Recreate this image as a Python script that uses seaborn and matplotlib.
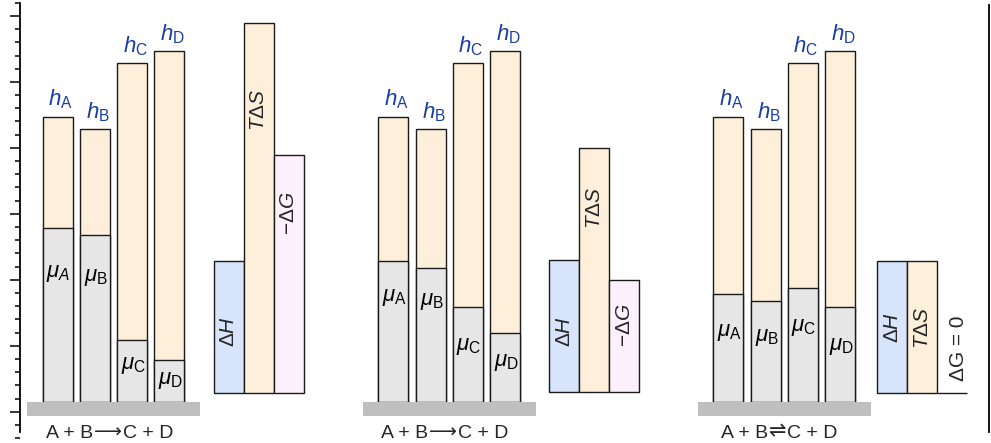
import numpy as np
import matplotlib
matplotlib.use("Agg")
import matplotlib.pyplot as plt
from matplotlib.patches import Rectangle
from matplotlib.ticker import MultipleLocator
import seaborn as sns

# ---- data (energy in axis-tick units, measured from the floor) ----
species = ["A", "B", "C", "D"]
enthalpy_h = [21.6, 20.65, 25.65, 26.6]          # h of each species (same in all panels)
mu_panel1 = [13.15, 12.65, 4.65, 3.15]           # chemical potentials, reaction runs forward
mu_panel2 = [10.65, 10.15, 7.15, 5.2]            # closer to equilibrium
mu_panel3 = [8.15, 7.65, 8.65, 7.15]             # at equilibrium
thermo_names = ["dH", "TdS", "mdG"]
thermo_panel1 = [10.0, 28.0, 18.0]               # ΔH, TΔS, −ΔG
thermo_panel2 = [10.0, 18.45, 8.45]
thermo_panel3 = [10.0, 10.0, 0.0]
reaction_parts = [
    ("A + B", "\u27F6", "C + D"),
    ("A + B", "\u27F6", "C + D"),
    ("A + B", "\u21CC", "C + D"),
]
thermo_text = [
    [r"$\Delta H$", r"$T\Delta S$", r"$-\Delta G$"],
    [r"$\Delta H$", r"$T\Delta S$", r"$-\Delta G$"],
    [r"$\Delta H$", r"$T\Delta S$", "\u0394G = 0"],
]
mu_text = [
    [r"$\mu_{A}$", r"$\mu_\mathrm{B}$", r"$\mu_\mathrm{C}$", r"$\mu_\mathrm{D}$"],
    [r"$\mu_\mathrm{A}$", r"$\mu_\mathrm{B}$", r"$\mu_\mathrm{C}$", r"$\mu_\mathrm{D}$"],
    [r"$\mu_\mathrm{A}$", r"$\mu_\mathrm{B}$", r"$\mu_\mathrm{C}$", r"$\mu_\mathrm{D}$"],
]

# ---- layout ----
FLOOR = 0.76
panel_x0 = [57.5, 393.3, 728.3]          # centre of first species bar
thermo_x0 = [228.8, 564.3, 892.2]        # centre of ΔH bar
thermo_floor = [1.44, 1.52, 1.44]
STEP = 37.3
BAR_W = 30.0
mu_label_y = [[10.5, 10.2, 3.54, 2.40], [8.62, 8.32, 4.91, 3.70], [6.04, 5.59, 6.42, 4.91]]
thermo_label_y = [[6.07, 22.87, 15.06], [6.07, 15.44, 6.57], [6.35, 6.35, 4.83]]
thermo_label_dx = [[0, 0, 0], [0, 0, 0], [0, 0, 6]]
reaction_x = [110, 444.5, 779.2]
REACTION_BASELINE = -1.96
arrow_size = [14, 14, 15]

PEACH = "#FEEFDB"
GRAY = "#E6E6E6"
BLUE = "#D7E4FC"
LAVENDER = "#FDF0FD"
SLAB = "#BFBFBF"
HBLUE = "#1B3CA6"
EDGE = "#1a1a1a"

sns.set_style("white")
plt.rcParams["font.family"] = ["Liberation Sans", "DejaVu Sans"]
plt.rcParams["mathtext.fontset"] = "custom"
plt.rcParams["mathtext.rm"] = "Liberation Sans"
plt.rcParams["mathtext.it"] = "Liberation Sans:italic"
plt.rcParams["mathtext.bf"] = "Liberation Sans:bold"

fig = plt.figure(figsize=(9.91, 4.43), dpi=100)
ax = fig.add_axes([0, 0, 1, 1])
ax.set_xlim(0, 991)
ax.set_ylim(-2.373, 31.21)

mus = [mu_panel1, mu_panel2, mu_panel3]
thermos = [thermo_panel1, thermo_panel2, thermo_panel3]
renderer = fig.canvas.get_renderer()


def reaction_label(xc, parts, asize):
    """Write 'left arrow right' as three pieces so the arrow can use its own font."""
    left, arrow, right = parts
    t1 = ax.text(0, REACTION_BASELINE, left, fontsize=14, ha="left", va="baseline")
    t2 = ax.text(0, REACTION_BASELINE, arrow, fontsize=asize, family="DejaVu Sans",
                 ha="left", va="baseline")
    t3 = ax.text(0, REACTION_BASELINE, right, fontsize=14, ha="left", va="baseline")
    widths = [t.get_window_extent(renderer).width for t in (t1, t2, t3)]
    gap = 1.0
    total = sum(widths) + 2 * gap
    x = xc - total / 2
    for t, w in zip((t1, t2, t3), widths):
        t.set_x(x)
        x += w + gap


for p in range(3):
    xs = panel_x0[p] + STEP * np.arange(len(species))
    # enthalpy bars (full height), then chemical potential on top of them
    sns.barplot(x=xs, y=enthalpy_h, native_scale=True, width=BAR_W / STEP,
                color=PEACH, saturation=1, edgecolor=EDGE, linewidth=1.0,
                errorbar=None, bottom=FLOOR, ax=ax, zorder=2)
    sns.barplot(x=xs, y=mus[p], native_scale=True, width=BAR_W / STEP,
                color=GRAY, saturation=1, edgecolor=EDGE, linewidth=1.0,
                errorbar=None, bottom=FLOOR, ax=ax, zorder=3)

    # thermodynamic quantities
    tx = thermo_x0[p] + BAR_W * np.arange(3)
    sns.barplot(x=tx, y=thermos[p], hue=thermo_names, hue_order=thermo_names,
                palette=[BLUE, PEACH, LAVENDER], native_scale=True, width=1.0,
                saturation=1, edgecolor=EDGE, linewidth=1.0, errorbar=None,
                bottom=thermo_floor[p], legend=False, ax=ax, zorder=2)

    # floor slab
    slab_c = xs[0] + 56
    ax.add_patch(Rectangle((slab_c - 86.5, -0.33), 173, FLOOR + 0.33,
                           facecolor=SLAB, edgecolor="none", zorder=4))

    # labels
    for i, s in enumerate(species):
        ax.text(xs[i] + 3, FLOOR + enthalpy_h[i] + 0.4, r"$h_\mathrm{%s}$" % s,
                color=HBLUE, fontsize=16, ha="center", va="bottom", zorder=5)
        ax.text(xs[i] + 1, mu_label_y[p][i], mu_text[p][i], color="black",
                fontsize=16, ha="center", va="center", zorder=5)
    for j in range(3):
        ax.text(tx[j] + thermo_label_dx[p][j], thermo_label_y[p][j], thermo_text[p][j],
                rotation=90, fontsize=15, ha="center", va="center", zorder=5)
    reaction_label(reaction_x[p], reaction_parts[p], arrow_size[p])

ax.set_xlim(0, 991)
ax.set_ylim(-2.373, 31.21)
ax.set_xticks([])
ax.yaxis.set_major_locator(MultipleLocator(5))
ax.yaxis.set_minor_locator(MultipleLocator(1))
ax.set_yticklabels([])
ax.tick_params(axis="y", which="major", direction="out", length=7.2, width=1.1,
               color="black", left=True, labelleft=False)
ax.tick_params(axis="y", which="minor", direction="out", length=3.6, width=1.1,
               color="black", left=True)
ax.set_xlabel("")
ax.set_ylabel("")

for side in ["top", "bottom"]:
    ax.spines[side].set_visible(False)
ax.spines["left"].set_position(("data", 20))
ax.spines["left"].set_bounds(-1.54, 30.96)
ax.spines["right"].set_position(("data", 989.3))
ax.spines["right"].set_bounds(-1.54, 30.83)
for side in ["left", "right"]:
    ax.spines[side].set_color("black")
    ax.spines[side].set_linewidth(1.3)
ax.set_facecolor("white")

fig.savefig("out.png", dpi=100, facecolor="white")
